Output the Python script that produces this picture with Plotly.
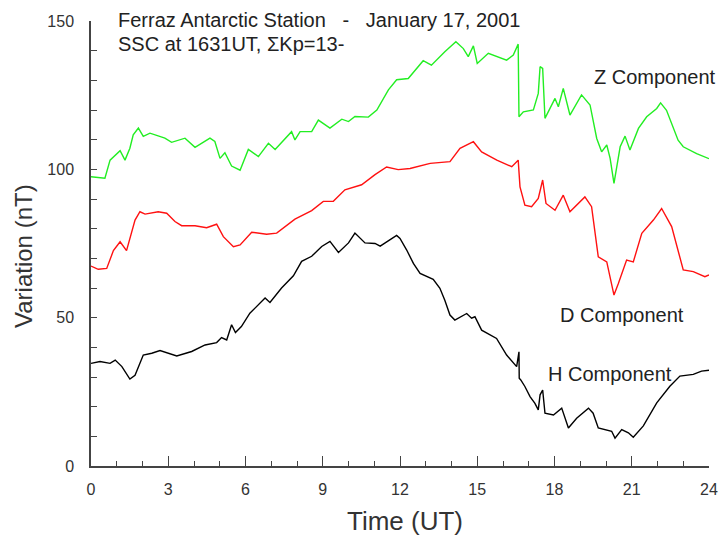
import plotly.graph_objects as go

# ---- data (hours UT, nT) ----
z_time = [0.0, 0.54, 0.74, 1.13, 1.32, 1.51, 1.64, 1.84, 2.03, 2.29, 2.87, 3.13, 3.65, 4.04, 4.62, 4.81,
          5.01, 5.2, 5.46, 5.79, 6.11, 6.5, 6.89, 7.15, 7.79, 7.92, 8.12, 8.57, 8.83, 9.28, 9.74, 10.0,
          10.25, 10.77, 11.1, 11.55, 11.87, 12.32, 12.9, 13.22, 13.74, 14.17, 14.46, 14.65, 14.85, 15.0,
          15.43, 15.88, 16.14, 16.4, 16.59, 16.62, 16.79, 17.18, 17.37, 17.44, 17.54, 17.63, 18.02, 18.15,
          18.34, 18.6, 19.05, 19.38, 19.64, 19.83, 20.03, 20.16, 20.31, 20.55, 20.74, 20.93, 21.26, 21.58,
          21.97, 22.12, 22.35, 22.8, 23.0, 23.52, 24.0]
z_vals = [97.5, 97.0, 103.1, 106.3, 103.1, 107.1, 111.6, 113.9, 111.1, 112.2, 110.5, 109.1, 110.5, 107.4, 110.5, 109.4,
          103.7, 105.6, 101.1, 99.7, 106.7, 104.3, 108.8, 106.7, 112.7, 109.9, 112.7, 112.7, 116.6, 113.9, 116.9, 116.1,
          117.8, 117.6, 120.0, 126.8, 130.2, 130.6, 136.6, 135.1, 139.6, 143.0, 140.7, 138.0, 141.6, 135.7,
          139.1, 137.7, 136.8, 138.5, 142.2, 117.7, 119.4, 120.0, 125.6, 134.6, 134.0, 117.2, 123.9, 121.1,
          127.3, 118.3, 125.1, 121.7, 110.4, 105.9, 108.2, 103.7, 95.3, 107.6, 111.2, 106.5, 113.8, 117.7,
          120.5, 122.4, 119.9, 109.8, 107.6, 105.3, 103.6]

d_time = [0.0, 0.28, 0.61, 0.87, 1.13, 1.38, 1.71, 1.9, 2.1, 2.61, 2.94, 3.26, 3.52, 4.04, 4.49, 4.88,
          5.14, 5.53, 5.79, 6.24, 6.82, 7.21, 7.92, 8.57, 9.02, 9.41, 9.86, 10.51, 11.03, 11.48, 11.93,
          12.39, 13.17, 13.94, 14.33, 14.85, 15.17, 15.76, 16.34, 16.59, 16.66, 16.85, 17.11, 17.37, 17.54,
          17.67, 18.02, 18.34, 18.6, 19.18, 19.44, 19.7, 20.03, 20.31, 20.48, 20.8, 21.06, 21.39, 21.84,
          22.16, 22.55, 23.0, 23.39, 23.84, 24.0]
d_vals = [67.4, 66.3, 66.6, 72.6, 75.6, 72.6, 82.9, 85.7, 84.9, 85.7, 85.2, 82.4, 81.0, 81.0, 80.3, 81.5,
          77.3, 73.9, 74.5, 78.8, 78.1, 78.5, 83.2, 86.1, 89.2, 89.2, 93.1, 94.8, 98.2, 100.8, 99.9,
          100.3, 102.0, 102.6, 107.1, 109.3, 105.9, 103.1, 100.9, 103.1, 94.1, 87.9, 87.4, 90.2, 96.4,
          88.5, 86.2, 91.3, 85.7, 90.7, 87.4, 70.5, 68.8, 57.6, 61.5, 69.4, 68.8, 78.4, 82.9,
          86.8, 80.7, 66.1, 65.5, 63.8, 64.4]

h_time = [0.0, 0.35, 0.74, 0.94, 1.2, 1.51, 1.71, 2.03, 2.36, 2.68, 3.33, 3.91, 4.43, 4.88, 5.07, 5.27,
          5.46, 5.61, 5.84, 6.17, 6.76, 6.95, 7.4, 7.86, 8.18, 8.57, 8.96, 9.28, 9.61, 10.0, 10.25, 10.64,
          11.03, 11.23, 11.87, 12.0, 12.26, 12.52, 12.78, 13.29, 13.55, 13.74, 13.94, 14.13, 14.59, 14.78,
          14.91, 15.17, 15.75, 16.14, 16.53, 16.62, 16.63, 16.69, 16.85, 17.05, 17.24, 17.37, 17.44, 17.54,
          17.63, 17.96, 18.28, 18.54, 18.86, 19.32, 19.5, 19.7, 20.22, 20.35, 20.61, 20.87, 21.06, 21.45,
          21.97, 22.48, 22.87, 23.39, 23.71, 24.0]
h_vals = [34.6, 35.2, 34.6, 35.7, 33.5, 29.3, 30.6, 37.4, 38.0, 38.9, 37.1, 38.6, 40.8, 41.6, 43.3, 42.5,
          47.6, 45.0, 47.0, 51.5, 56.6, 55.1, 60.0, 64.1, 69.0, 70.7, 74.0, 75.7, 72.0, 75.2, 78.5, 75.2,
          75.0, 74.1, 77.7, 76.7, 72.8, 68.3, 64.9, 62.9, 59.9, 55.9, 50.9, 49.2, 51.4, 49.8,
          50.3, 45.8, 43.0, 37.4, 33.5, 38.5, 29.6, 29.0, 26.8, 23.4, 21.1, 18.9, 24.0, 25.6,
          17.8, 17.2, 19.5, 12.8, 16.1, 19.5, 17.8, 12.8, 11.7, 9.4, 12.3, 11.2, 9.7, 13.5,
          21.3, 26.9, 30.3, 30.9, 32.0, 32.3]

x_ticks = [0, 3, 6, 9, 12, 15, 18, 21, 24]
y_ticks = [0, 50, 100, 150]

FONT = "Liberation Sans, Arial, sans-serif"
TXT = "#222222"
AX = "#444444"

fig = go.Figure()
fig.add_trace(go.Scatter(x=z_time, y=z_vals, mode="lines", line=dict(color="#22ee22", width=1.4), name="Z"))
fig.add_trace(go.Scatter(x=d_time, y=d_vals, mode="lines", line=dict(color="#ff1111", width=1.4), name="D"))
fig.add_trace(go.Scatter(x=h_time, y=h_vals, mode="lines", line=dict(color="#000000", width=1.4), name="H"))

fig.update_layout(
    width=719, height=535,
    margin=dict(l=91, r=10, t=21, b=69),
    paper_bgcolor="white", plot_bgcolor="white",
    showlegend=False,
    font=dict(family=FONT, color=TXT, size=16),
)
fig.update_xaxes(
    range=[0, 24], tickvals=x_ticks, ticktext=[str(v) for v in x_ticks],
    ticks="inside", ticklen=10, tickwidth=1.2, tickcolor=AX,
    minor=dict(dtick=1, ticks="inside", ticklen=5, tickwidth=1.2, tickcolor=AX),
    showline=True, linecolor=AX, linewidth=1.5, showgrid=False, zeroline=False,
    tickfont=dict(size=16, color="#333333"), ticklabelstandoff=8, automargin=False,
)
fig.update_yaxes(
    range=[0, 150], tickvals=y_ticks, ticktext=[str(v) for v in y_ticks],
    ticks="inside", ticklen=6, tickwidth=1.2, tickcolor=AX,
    minor=dict(dtick=10, ticks="inside", ticklen=6, tickwidth=1.2, tickcolor=AX),
    showline=True, linecolor=AX, linewidth=1.5, showgrid=False, zeroline=False,
    tickfont=dict(size=16, color="#333333"), ticklabelstandoff=12, automargin=False,
)

def label(text, x, y, size=20, xref="x", yref="y", xanchor="left", angle=0, color=TXT):
    fig.add_annotation(x=x, y=y, xref=xref, yref=yref, text=text, showarrow=False,
                       xanchor=xanchor, yanchor="middle", textangle=angle,
                       font=dict(size=size, color=color, family=FONT))

# axis titles
label("Time (UT)", 0.508, -0.1236, 26, "paper", "paper", "center", color="#333333")
label("Variation (nT)", -0.1084, 0.472, 24, "paper", "paper", "center", angle=-90, color="#333333")
# header
label("Ferraz Antarctic Station   -   January 17, 2001", 0.97, 1.002, 20, "x", "paper")
label("SSC at 1631UT, \u03a3Kp=13-", 0.97, 0.948, 20, "x", "paper")
# series labels
label("Z Component", 19.46, 131.1)
label("D Component", 18.14, 50.9)
label("H Component", 17.67, 31.0)

fig.write_html("out.html", config={"displayModeBar": False},
               post_script="document.body.style.margin='0';document.body.style.overflow='hidden';")
